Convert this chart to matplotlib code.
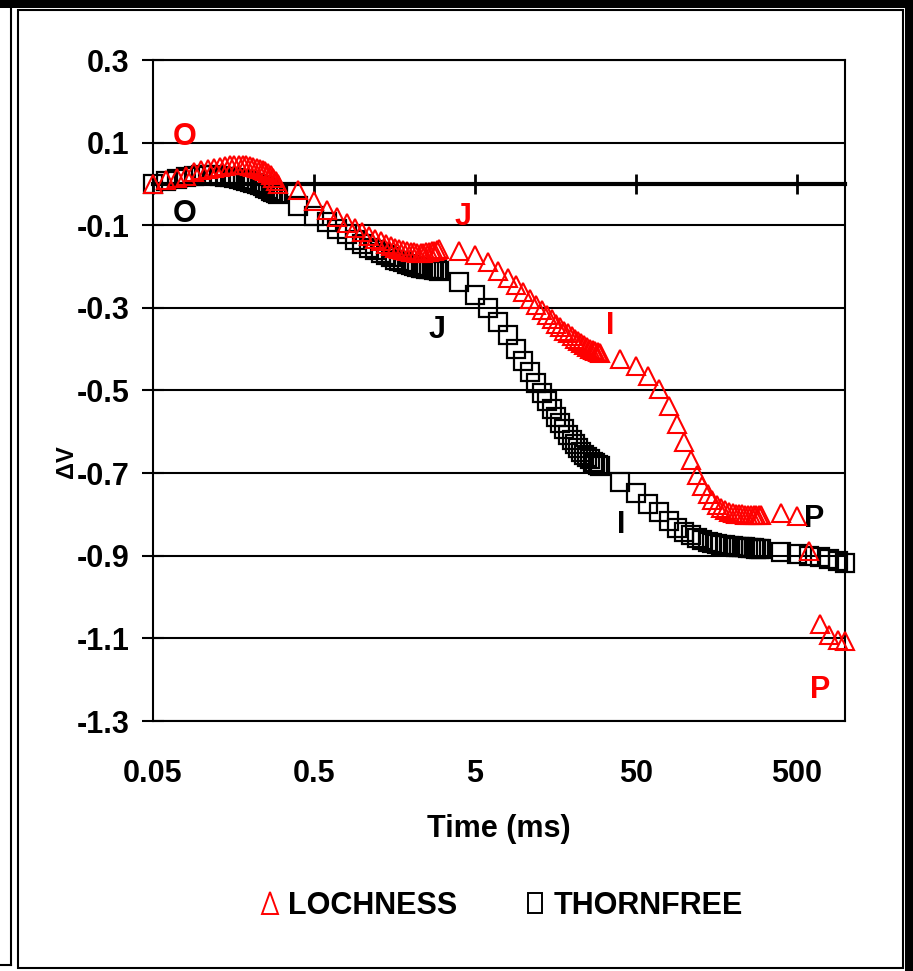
import matplotlib

matplotlib.use("Agg")
import matplotlib.pyplot as plt
from matplotlib.lines import Line2D
from matplotlib.markers import MarkerStyle
from matplotlib.patches import Rectangle
from matplotlib.ticker import FixedLocator, NullFormatter, NullLocator
from matplotlib.transforms import Affine2D

# sampling times (ms)
TIME_MS = [
    0.05, 0.06, 0.07, 0.08, 0.09, 0.10, 0.11, 0.12, 0.13, 0.14, 0.15, 0.16, 0.17,
    0.18, 0.19, 0.20, 0.21, 0.22, 0.23, 0.24, 0.25, 0.26, 0.27, 0.28, 0.29, 0.30,
    0.4, 0.5, 0.6, 0.7, 0.8, 0.9, 1.0, 1.1, 1.2, 1.3, 1.4, 1.5, 1.6, 1.7, 1.8,
    1.9, 2.0, 2.1, 2.2, 2.3, 2.4, 2.5, 2.6, 2.7, 2.8, 2.9, 3.0,
    4, 5, 6, 7, 8, 9, 10, 11, 12, 13, 14, 15, 16, 17, 18, 19, 20, 21, 22, 23,
    24, 25, 26, 27, 28, 29, 30,
    40, 50, 60, 70, 80, 90, 100, 110, 120, 130, 140, 150, 160, 170, 180, 190,
    200, 210, 220, 230, 240, 250, 260, 270, 280, 290, 300,
    400, 500, 600, 700, 800, 900, 1000,
]

LOCHNESS = [
    0.000, 0.010, 0.015, 0.020, 0.030, 0.034, 0.036, 0.039, 0.041, 0.044, 0.045, 0.046, 0.046,
    0.046, 0.045, 0.044, 0.041, 0.039, 0.036, 0.034, 0.031, 0.027, 0.022, 0.015, 0.007, 0.000,
    -0.015, -0.041, -0.063, -0.080, -0.094, -0.107, -0.116, -0.126, -0.133, -0.139, -0.145,
    -0.150, -0.154, -0.157, -0.160, -0.162, -0.164, -0.165, -0.166, -0.166, -0.166, -0.165,
    -0.164, -0.163, -0.162, -0.160, -0.158,
    -0.162, -0.172, -0.190, -0.210, -0.228, -0.245, -0.262, -0.278, -0.292, -0.305, -0.317,
    -0.328, -0.338, -0.347, -0.355, -0.362, -0.369, -0.375, -0.381, -0.386, -0.391, -0.395,
    -0.399, -0.402, -0.405, -0.408, -0.410,
    -0.424, -0.440, -0.465, -0.496, -0.537, -0.581, -0.625, -0.668, -0.705, -0.730, -0.750,
    -0.765, -0.776, -0.784, -0.789, -0.793, -0.796, -0.798, -0.799, -0.800, -0.801, -0.801,
    -0.802, -0.802, -0.802, -0.802, -0.802,
    -0.797, -0.804, -0.889, -1.065, -1.092, -1.104, -1.107,
]

THORNFREE = [
    0.000, 0.006, 0.012, 0.016, 0.019, 0.021, 0.021, 0.021, 0.020, 0.018, 0.016, 0.014, 0.012,
    0.010, 0.008, 0.005, 0.003, 0.000, -0.003, -0.006, -0.010, -0.013, -0.016, -0.019, -0.022,
    -0.025,
    -0.053, -0.078, -0.093, -0.109, -0.121, -0.135, -0.145, -0.154, -0.161, -0.168, -0.173,
    -0.178, -0.183, -0.187, -0.190, -0.194, -0.197, -0.199, -0.201, -0.203, -0.204, -0.205,
    -0.206, -0.207, -0.208, -0.209, -0.210,
    -0.237, -0.268, -0.300, -0.335, -0.366, -0.400, -0.428, -0.455, -0.482, -0.505, -0.526,
    -0.545, -0.563, -0.579, -0.594, -0.607, -0.619, -0.630, -0.640, -0.648, -0.655, -0.661,
    -0.667, -0.672, -0.676, -0.680, -0.683,
    -0.722, -0.748, -0.774, -0.795, -0.816, -0.832, -0.842, -0.850, -0.857, -0.862, -0.866,
    -0.869, -0.871, -0.873, -0.875, -0.876, -0.877, -0.878, -0.879, -0.880, -0.880, -0.881,
    -0.882, -0.882, -0.883, -0.883, -0.884,
    -0.890, -0.895, -0.900, -0.904, -0.908, -0.913, -0.918,
]

X_TICKS = [0.05, 0.5, 5, 50, 500]
X_TICK_LABELS = ["0.05", "0.5", "5", "50", "500"]
Y_TICKS = [0.3, 0.1, -0.1, -0.3, -0.5, -0.7, -0.9, -1.1, -1.3]
Y_TICK_LABELS = ["0.3", "0.1", "-0.1", "-0.3", "-0.5", "-0.7", "-0.9", "-1.1", "-1.3"]

# O-J-I-P point labels: (text, time, value, colour)
PHASE_LABELS = [
    ("O", 0.079, 0.114, "red"),
    ("O", 0.079, -0.072, "black"),
    ("J", 4.2, -0.080, "red"),
    ("J", 2.9, -0.354, "black"),
    ("I", 34.5, -0.345, "red"),
    ("I", 40.4, -0.825, "black"),
    ("P", 647, -0.812, "black"),
    ("P", 700, -1.225, "red"),
]

W, H = 913, 971
FS = 22

plt.rcParams["font.family"] = ["Liberation Sans Narrow", "Liberation Sans", "DejaVu Sans"]
plt.rcParams["font.weight"] = "bold"
plt.rcParams["axes.unicode_minus"] = False

fig = plt.figure(figsize=(W / 100, H / 100), dpi=100)
ax = fig.add_axes([153 / W, 1 - 721 / H, (845 - 153) / W, (721 - 60) / H])

ax.set_xscale("log")
ax.set_xlim(0.05, 1000)
ax.set_ylim(-1.3, 0.3)

ax.plot(TIME_MS, THORNFREE, ls="none", marker="s", ms=12.5, mfc="none",
        mec="black", mew=1.6, clip_on=False, zorder=3)
ax.plot(TIME_MS, LOCHNESS, ls="none", marker="^", ms=13.5, mfc="none",
        mec="red", mew=1.5, clip_on=False, zorder=4)

# y axis with horizontal gridlines
ax.yaxis.set_major_locator(FixedLocator(Y_TICKS))
ax.set_yticklabels(Y_TICK_LABELS)
ax.tick_params(axis="y", direction="inout", length=16, width=1.5, pad=9, labelsize=FS)
ax.yaxis.grid(True, color="black", lw=1.5)
ax.set_axisbelow(True)

# time axis crossing at zero, labels kept at the bottom
ax.spines["bottom"].set_position(("data", 0))
ax.spines["bottom"].set_linewidth(3)
ax.spines["bottom"].set_zorder(2.5)
ax.xaxis.set_major_locator(FixedLocator(X_TICKS))
ax.xaxis.set_minor_locator(NullLocator())
ax.tick_params(axis="x", direction="inout", length=14, width=2, labelbottom=False)
for side in ["left", "right", "top"]:
    ax.spines[side].set_linewidth(1.5)

sec = ax.secondary_xaxis("bottom")
sec.xaxis.set_major_locator(FixedLocator(X_TICKS))
sec.xaxis.set_minor_locator(NullLocator())
sec.xaxis.set_minor_formatter(NullFormatter())
sec.set_xticklabels(X_TICK_LABELS)
sec.tick_params(axis="x", length=0, pad=27, labelsize=FS)
sec.spines["bottom"].set_linewidth(1.5)
sec.set_xlabel("Time (ms)", fontsize=FS, fontweight="bold", labelpad=18)

fig.text(66 / W, 1 - 462 / H, "ΔV", rotation=90, ha="center", va="center",
         fontsize=17, fontweight="bold")

for text, t, v, color in PHASE_LABELS:
    ax.text(t, v, text, color=color, fontsize=FS, ha="center", va="center")

narrow = Affine2D().scale(0.7, 1.0)
handles = [
    Line2D([], [], ls="none", marker=MarkerStyle("^", fillstyle="none", transform=narrow),
           ms=16, mec="red", mew=1.4),
    Line2D([], [], ls="none", marker=MarkerStyle("s", fillstyle="none", transform=narrow),
           ms=15, mec="black", mew=1.4),
]
fig.legend(handles, ["LOCHNESS", "THORNFREE"], loc="center",
           bbox_to_anchor=(501 / W, 1 - 906 / H), ncol=2, frameon=False, fontsize=FS,
           handlelength=0.7, handletextpad=0.25, columnspacing=2.2)


def frame_rect(x0, y0, x1, y1, **kw):
    fig.add_artist(Rectangle((x0 / W, 1 - y1 / H), (x1 - x0) / W, (y1 - y0) / H,
                             transform=fig.transFigure, **kw))


# chart border with heavy top/right edge, and the edge of the neighbouring panel
frame_rect(0, 0, W, 8, facecolor="black", edgecolor="none")
frame_rect(905, 0, W, H, facecolor="black", edgecolor="none")
frame_rect(18, 10, 903, 968, fill=False, edgecolor="black", lw=1.5)
fig.add_artist(Line2D([11 / W, 11 / W], [1 - 8 / H, 1 - 965 / H],
                      transform=fig.transFigure, color="black", lw=1.5))
fig.add_artist(Line2D([0, 11 / W], [1 - 965 / H, 1 - 965 / H],
                      transform=fig.transFigure, color="black", lw=1.5))

fig.savefig("out.png", dpi=100)
